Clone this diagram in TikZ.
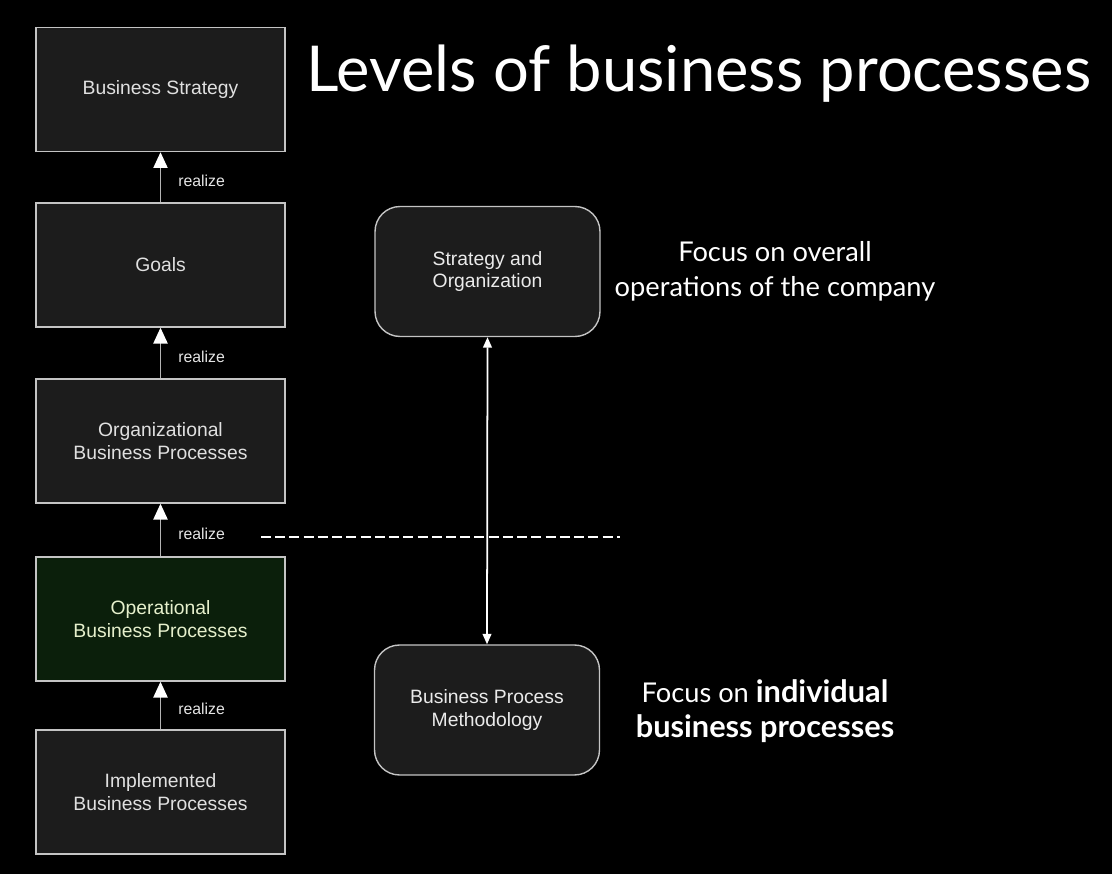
\documentclass[tikz,border=0pt]{standalone}
\usepackage{fontspec}
\setmainfont{Liberation Sans}
\newfontfamily\titlefont{Lato}
\newfontfamily\focusfont{Lato}
\usepackage{tikz}
\usetikzlibrary{arrows.meta,positioning}
\definecolor{boxfill}{HTML}{1C1C1C}
\definecolor{boxline}{HTML}{C4C4C4}
\definecolor{opfill}{HTML}{0B1F0B}
\definecolor{optext}{HTML}{E6F0CC}
\definecolor{arrline}{HTML}{B4B4B4}

\begin{document}
\begin{tikzpicture}[
    x=0.02cm, y=-0.02cm,
    level/.style={rectangle, draw=boxline, fill=boxfill, line width=0.8pt, minimum width=4.98cm, minimum height=2.48cm, font=\fontsize{11}{13}\selectfont, text=white!88!black, align=center},
    method/.style={rectangle, draw=boxline, fill=boxfill, line width=0.8pt, minimum width=4.5cm, minimum height=2.6cm, rounded corners=0.5cm, font=\fontsize{11}{13}\selectfont, text=white!92!black, align=center},
    realize/.style={-{Triangle[width=8pt,length=9pt,color=white]}, draw=arrline, line width=1.1pt},
    rlabel/.style={right=0.22cm, font=\fontsize{9}{10}\selectfont, text=white!90!black},
    focus/.style={font=\focusfont\fontsize{15.5}{20}\selectfont, text=white, align=center}
]

% Background
\fill[black] (0,0) rectangle (1112,874);
\useasboundingbox (0,0) rectangle (1112,874);

% Title
\node[font=\titlefont\fontsize{36}{40}\selectfont, text=white] (title) at (699,74) {Levels of business processes};

% Levels - left column
\node[level] (strategy) at (160.5, 89.5) {Business Strategy};
\node[level] (goals) at (160.5, 265) {Goals};
\node[level] (orgbp) at (160.5, 441) {Organizational\\Business Processes};
\node[level, fill=opfill, text=optext] (opbp) at (160.5, 619) {Operational\\Business Processes};
\node[level] (implbp) at (160.5, 792) {Implemented\\Business Processes};

% Realize arrows
\draw[realize] (goals.north) -- (strategy.south) node[pos=0.42, rlabel] {realize};
\draw[realize] (orgbp.north) -- (goals.south) node[pos=0.42, rlabel] {realize};
\draw[realize] (opbp.north) -- (orgbp.south) node[pos=0.42, rlabel] {realize};
\draw[realize] (implbp.north) -- (opbp.south) node[pos=0.42, rlabel] {realize};

% Methodology boxes
\node[method] (stratorg) at (487.5, 271.5) {Strategy and\\Organization};
\node[method] (bpmethod) at (487, 710) {Business Process\\Methodology};

% Divider between organizational and operational levels
\coordinate (dashL) at (261, 537);
\coordinate (dashR) at (620, 537);
\draw[white, line width=1.2pt, dash pattern=on 5.7pt off 2.4pt] (dashL) -- (dashR);

% Span between the two views
\draw[{Triangle[width=5pt,length=6pt]}-{Triangle[width=5pt,length=6pt]}, white, line width=1pt] (stratorg.south) -- (bpmethod.north);

% Focus notes
\node[focus] (focustop) at (775, 271) {Focus on overall\\operations of the company};
\node[focus] (focusbot) at (765, 711) {Focus on {\fontsize{17.5}{20}\selectfont\textbf{individual}}\\{\fontsize{17.5}{20}\selectfont\textbf{business processes}}};

\end{tikzpicture}
\end{document}
